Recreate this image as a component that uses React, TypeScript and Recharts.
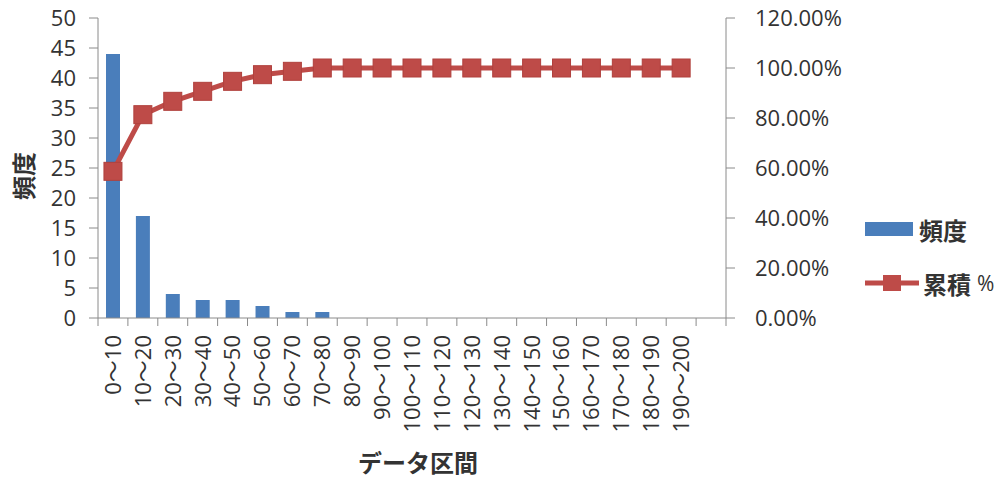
import {
  Bar, ComposedChart, Legend, Line, XAxis, YAxis,
} from 'recharts';

const categories = [
  '0～10', '10～20', '20～30', '30～40', '40～50', '50～60', '60～70', '70～80',
  '80～90', '90～100', '100～110', '110～120', '120～130', '130～140', '140～150',
  '150～160', '160～170', '170～180', '180～190', '190～200', '',
];
const frequency = [44, 17, 4, 3, 3, 2, 1, 1, 0, 0, 0, 0, 0, 0, 0, 0, 0, 0, 0, 0, null];
const cumulative = [
  0.5867, 0.8133, 0.8667, 0.9067, 0.9467, 0.9733, 0.9867, 1, 1, 1,
  1, 1, 1, 1, 1, 1, 1, 1, 1, 1, null,
];
const leftTicks = [0, 5, 10, 15, 20, 25, 30, 35, 40, 45, 50];
const rightTicks = [0, 0.2, 0.4, 0.6, 0.8, 1, 1.2];

const BLUE = '#4a7ebb';
const RED = '#be4b48';
const AXIS = '#8a8a8a';
const TEXT = '#333';
const FONT = "'Open Sans', 'Noto Sans CJK JP', sans-serif";
const JP = "'Noto Sans CJK JP', sans-serif";

const TICK_SIZE = 8;
const TICK_MARGIN = 9;

const data = categories.map((name, i) => ({
  name,
  freq: frequency[i],
  cum: cumulative[i],
}));

const CategoryTick = ({ x, y, payload, index }: any) => {
  const axisY = y - TICK_SIZE - TICK_MARGIN;
  const off = payload.offset ?? 0;
  const last = index === categories.length - 1;
  return (
    <g>
      <line x1={x - off} x2={x - off} y1={axisY} y2={axisY + TICK_SIZE} stroke={AXIS} />
      {last && <line x1={x + off} x2={x + off} y1={axisY} y2={axisY + TICK_SIZE} stroke={AXIS} />}
      <g transform={`translate(${x},${y})`}>
        <text transform="rotate(-90)" x={0} y={0} dy="0.36em" textAnchor="end"
          fill={TEXT} fontSize={22} fontFamily={FONT}>{payload.value}</text>
      </g>
    </g>
  );
};

const SquareDot = ({ cx, cy, index }: any) => {
  if (cx == null || cy == null) return <g key={index} />;
  return <rect key={index} x={cx - 9} y={cy - 9} width={18} height={18} fill={RED} stroke="#b0403d" strokeWidth={1} />;
};

const LegendContent = () => (
  <div style={{ fontFamily: JP, color: TEXT }}>
    <div style={{ display: 'flex', alignItems: 'center', height: 30 }}>
      <span style={{ width: 48, height: 14, background: BLUE, display: 'inline-block', marginRight: 6 }} />
      <span style={{ fontSize: 24, fontWeight: 700 }}>頻度</span>
    </div>
    <div style={{ display: 'flex', alignItems: 'center', height: 30, marginTop: 24 }}>
      <svg width={54} height={20} style={{ marginRight: 4 }}>
        <line x1={0} x2={54} y1={10} y2={10} stroke={RED} strokeWidth={5} />
        <rect x={18} y={2} width={18} height={16} fill={RED} />
      </svg>
      <span style={{ fontSize: 24, fontWeight: 700 }}>累積</span>
      <span style={{ fontSize: 21, marginLeft: 6, fontFamily: FONT }}>%</span>
    </div>
  </div>
);

export default function App() {
  return (
    <div style={{ position: 'absolute', left: 0, top: 0, width: 1003, height: 481, background: '#fff' }}>
      <ComposedChart width={1003} height={481} data={data}
        margin={{ top: 18, right: 165, bottom: 0, left: 0 }} barCategoryGap="26%">
        <XAxis dataKey="name" interval={0} height={163} axisLine={{ stroke: AXIS }}
          tickLine={false} tickSize={TICK_SIZE} tickMargin={TICK_MARGIN}
          tick={<CategoryTick />}
          label={({ viewBox }: any) => (
            <text x={viewBox.x + viewBox.width / 2 + 6} y={viewBox.y + 154} textAnchor="middle"
              fontSize={24} fontWeight={700} fill={TEXT} fontFamily={JP}>データ区間</text>
          )} />
        <YAxis yAxisId="left" domain={[0, 50]} ticks={leftTicks} interval={0} width={98}
          axisLine={{ stroke: AXIS }} tickLine={{ stroke: AXIS }} tickSize={9} tickMargin={13}
          tick={{ fill: TEXT, fontSize: 22, fontFamily: FONT }}
          label={({ viewBox }: any) => {
            const cx = viewBox.x + 22;
            const cy = viewBox.y + viewBox.height / 2 + 8;
            return (
              <text x={cx} y={cy} transform={`rotate(-90, ${cx}, ${cy})`} textAnchor="middle"
                dominantBaseline="central" fontSize={24} fontWeight={700} fill={TEXT} fontFamily={JP}>頻度</text>
            );
          }} />
        <YAxis yAxisId="right" orientation="right" domain={[0, 1.2]} ticks={rightTicks} interval={0} width={112}
          axisLine={{ stroke: AXIS }} tickLine={{ stroke: AXIS }} tickSize={9} tickMargin={20}
          tick={{ fill: TEXT, fontSize: 22, fontFamily: FONT, textAnchor: 'start' }}
          tickFormatter={(v: number) => `${(v * 100).toFixed(2)}%`} />
        <Legend layout="horizontal" verticalAlign="middle" align="center"
          wrapperStyle={{ left: 865, top: 214, width: 138 }} content={<LegendContent />} />
        <Bar yAxisId="left" dataKey="freq" fill={BLUE} barSize={14} isAnimationActive={false} />
        <Line yAxisId="right" dataKey="cum" stroke={RED} strokeWidth={5} dot={<SquareDot />}
          activeDot={false} isAnimationActive={false} />
      </ComposedChart>
    </div>
  );
}
